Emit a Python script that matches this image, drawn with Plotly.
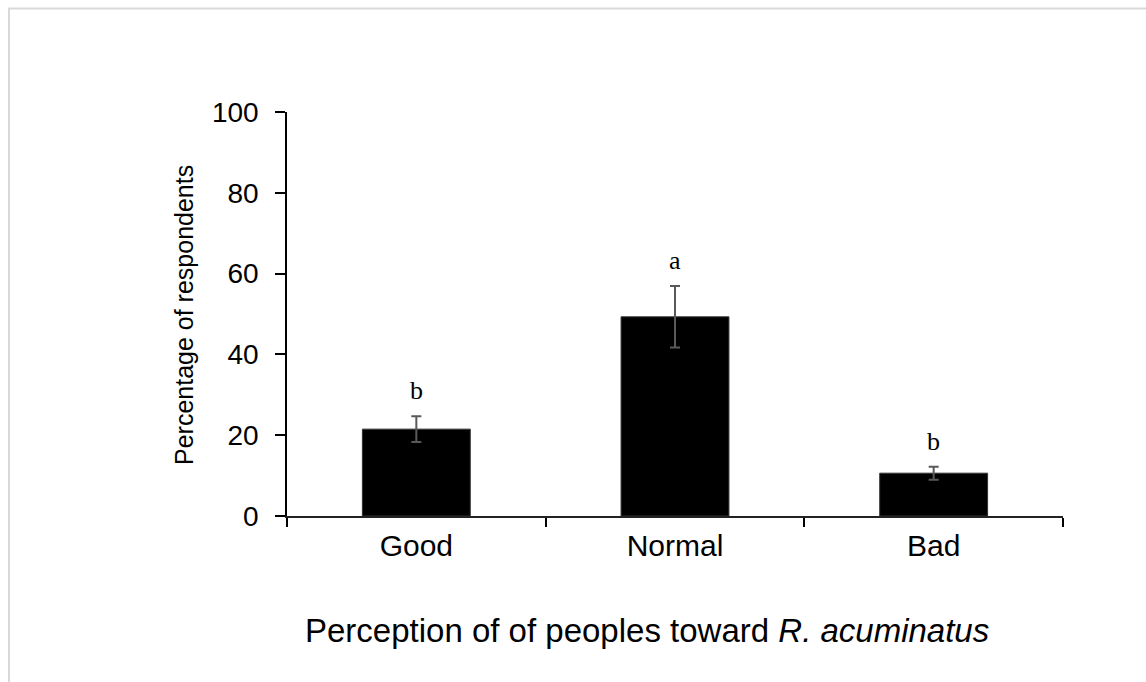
import plotly.graph_objects as go

categories = ["Good", "Normal", "Bad"]
values = [21.5, 49.3, 10.6]
errors = [3.2, 7.6, 1.6]
letters = ["b", "a", "b"]
y_ticks = [0, 20, 40, 60, 80, 100]

W, H = 1146, 682
L, R, T, B = 287, 83, 112, 166
pw, ph = W - L - R, H - T - B

def px(x):
    return (x - L) / pw

def py(y):
    return (H - B - y) / ph

fig = go.Figure()
fig.add_trace(go.Bar(
    x=categories, y=values, width=0.417,
    marker=dict(color="black", line=dict(color="#333333", width=1)),
    error_y=dict(type="data", array=errors, visible=True,
                 color="#595959", thickness=2, width=5),
    showlegend=False,
))

for c, v, e, l in zip(categories, values, errors, letters):
    fig.add_annotation(x=c, y=v + e, text=l, showarrow=False,
                       yanchor="bottom", yshift=9,
                       font=dict(family="Liberation Serif", size=26, color="black"))

fig.add_annotation(xref="paper", yref="paper", x=px(184), y=py(315),
                   text="Percentage of respondents", textangle=-90,
                   showarrow=False, xanchor="center", yanchor="middle",
                   font=dict(family="Liberation Sans", size=25, color="black"))

fig.add_annotation(xref="paper", yref="paper", x=px(647), y=py(630),
                   text="Perception of of peoples toward <i>R. acuminatus</i>",
                   showarrow=False, xanchor="center", yanchor="middle",
                   font=dict(family="Liberation Sans", size=33, color="black"))

fig.add_shape(type="rect", xref="paper", yref="paper",
              x0=px(9), y0=py(W + 50), x1=px(W + 50), y1=py(8.5),
              line=dict(color="#d9d9d9", width=2), fillcolor="rgba(0,0,0,0)",
              layer="below")

fig.update_layout(
    width=W, height=H,
    margin=dict(l=L, r=R, t=T, b=B, autoexpand=False),
    plot_bgcolor="white", paper_bgcolor="white",
    font=dict(family="Liberation Sans", color="black"),
    xaxis=dict(type="category", range=[-0.5, 2.5], tickson="boundaries",
               ticks="outside", ticklen=9, tickwidth=1.5, tickcolor="black",
               showline=True, linecolor="#222222", linewidth=1.5,
               showgrid=False, tickfont=dict(size=30, color="black"),
               ticklabelstandoff=2),
    yaxis=dict(range=[0, 100], tickvals=y_ticks, ticks="outside", ticklen=10,
               tickwidth=1.5, tickcolor="black", showline=True,
               linecolor="black", linewidth=1.5, showgrid=False,
               zeroline=False, tickfont=dict(size=28, color="black"),
               ticklabelstandoff=11),
    bargap=0.583,
)

fig.write_html("out.html")
